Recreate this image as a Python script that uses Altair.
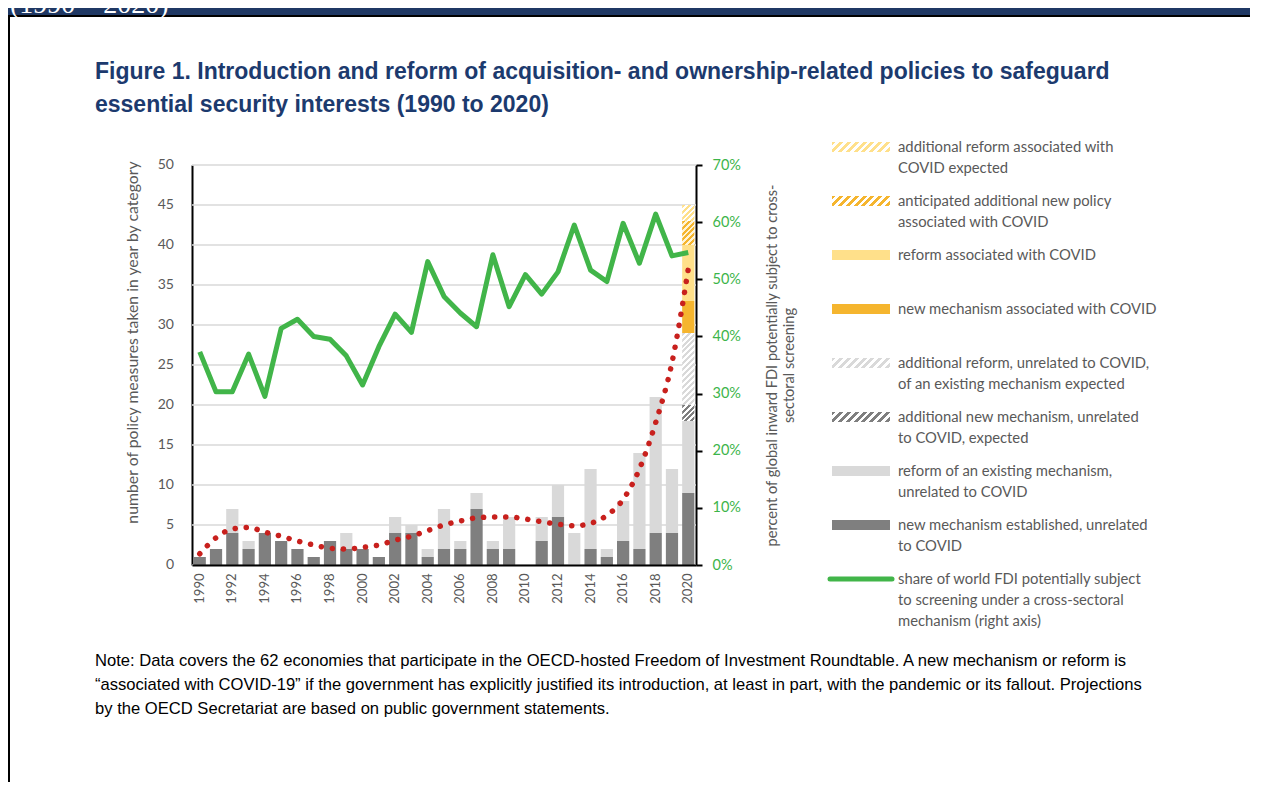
import altair as alt
import pandas as pd

# ---------------- data ----------------
years = [1990, 1991, 1992, 1993, 1994, 1995, 1996, 1997, 1998, 1999,
         2000, 2001, 2002, 2003, 2004, 2005, 2006, 2007, 2008, 2009,
         2010, 2011, 2012, 2013, 2014, 2015, 2016, 2017, 2018, 2019, 2020]
year_labels = [1990, 1992, 1994, 1996, 1998, 2000, 2002, 2004, 2006, 2008,
               2010, 2012, 2014, 2016, 2018, 2020]

new_unrelated = [1, 2, 4, 2, 4, 3, 2, 1, 3, 2, 2, 1, 4, 4, 1, 2, 2, 7, 2, 2,
                 0, 3, 6, 0, 2, 1, 3, 2, 4, 4, 9]
reform_unrelated = [0, 0, 3, 1, 0, 0, 0, 0, 0, 2, 0, 0, 2, 1, 1, 5, 1, 2, 1, 4,
                    0, 3, 4, 4, 10, 1, 5, 12, 17, 8, 9]
new_unrelated_expected = [0] * 30 + [2]
reform_unrelated_expected = [0] * 30 + [9]
new_covid = [0] * 30 + [4]
reform_covid = [0] * 30 + [7]
new_covid_expected = [0] * 30 + [3]
reform_covid_expected = [0] * 30 + [2]

fdi_share = [37.3, 30.3, 30.3, 36.9, 29.5, 41.4, 43.0, 40.0, 39.5, 36.6,
             31.5, 38.2, 43.9, 40.7, 53.1, 47.0, 44.1, 41.7, 54.3, 45.2,
             50.8, 47.4, 51.3, 59.5, 51.6, 49.6, 59.8, 52.8, 61.4, 54.1, 54.7]
trend = [1.4, 3.4, 4.5, 4.7, 4.1, 3.6, 3.0, 2.5, 2.1, 2.0,
         2.2, 2.5, 3.1, 3.6, 4.3, 5.0, 5.5, 5.9, 6.0, 6.0,
         5.75, 5.4, 5.1, 4.9, 5.2, 6.2, 8.2, 12.0, 17.8, 25.3, 37.0]

left_ticks = [0, 5, 10, 15, 20, 25, 30, 35, 40, 45, 50]
right_ticks = [0, 10, 20, 30, 40, 50, 60, 70]

legend_labels = [
    "additional reform associated with\nCOVID expected",
    "anticipated additional new policy\nassociated with COVID",
    "reform associated with COVID",
    "new mechanism associated with COVID",
    "additional reform, unrelated to COVID,\nof an existing mechanism expected",
    "additional new mechanism, unrelated\nto COVID, expected",
    "reform of an existing mechanism,\nunrelated to COVID",
    "new mechanism established, unrelated\nto COVID",
    "share of world FDI potentially subject\nto screening under a cross-sectoral\nmechanism (right axis)",
]

title_lines = [
    "Figure 1. Introduction and reform of acquisition- and ownership-related policies to safeguard",
    "essential security interests (1990 to 2020)",
]
note_lines = [
    "Note: Data covers the 62 economies that participate in the OECD-hosted Freedom of Investment Roundtable. A new mechanism or reform is",
    "\u201cassociated with COVID-19\u201d if the government has explicitly justified its introduction, at least in part, with the pandemic or its fallout. Projections",
    "by the OECD Secretariat are based on public government statements.",
]
header_text = "(1990 \u2013 2020)"

# ---------------- styles ----------------
GREY_TXT = "#595959"
DARK = "#7f7f7f"
LIGHT = "#d9d9d9"
ORANGE = "#f5b52e"
GOLD = "#ffe08a"
GREEN = "#41b549"
GREEN_TXT = "#3cb54a"
RED = "#c8201d"
NAVY = "#1f3864"
TITLE_NAVY = "#1c3a6e"
FONT = "Lato"

W, H = 504, 400
PX_PER_UNIT = H / 50.0
BANDWIDTH = W / (31 - 0.25 + 0.2) * 0.75


def hatch(color, w, h, period, frac=0.5, bg="#ffffff"):
    n = (w + h) / (period * 2 ** 0.5)
    dt = 1.0 / n
    stops = []
    t = 0.0
    while t < 0.9999:
        t1 = min(t + dt * frac, 1.0)
        t2 = min(t + dt, 1.0)
        stops += [(t, color), (t1, color), (t1, bg), (t2, bg)]
        t = t2
    s = (w + h) / (w * w + h * h)
    return {"gradient": "linear", "x1": 0, "y1": 0, "x2": s * w, "y2": s * h,
            "stops": [{"offset": round(o, 5), "color": c} for o, c in stops]}


# stacking order bottom -> top : (key, values, colour, hatched, hatch bg)
series = [
    ("new_unrel", new_unrelated, DARK, False, None),
    ("reform_unrel", reform_unrelated, LIGHT, False, None),
    ("new_unrel_exp", new_unrelated_expected, DARK, True, "#ffffff"),
    ("reform_unrel_exp", reform_unrelated_expected, LIGHT, True, "#ffffff"),
    ("new_covid", new_covid, ORANGE, False, None),
    ("reform_covid", reform_covid, GOLD, False, None),
    ("new_covid_exp", new_covid_expected, ORANGE, True, "#fff4d6"),
    ("reform_covid_exp", reform_covid_expected, GOLD, True, "#ffffff"),
]

rows = []
cum = [0] * len(years)
for key, vals, col, hat, bg in series:
    for i, y in enumerate(years):
        v = vals[i]
        if v > 0:
            rows.append({"year": y, "cat": key, "y0": cum[i], "y1": cum[i] + v, "v": v})
        cum[i] += v
bars_df = pd.DataFrame(rows)
line_df = pd.DataFrame({"year": years, "share": fdi_share, "trend": trend})
legend_df = pd.DataFrame({"item": list(range(len(legend_labels))), "label": legend_labels})
ticks_df = pd.DataFrame({"tick": left_ticks})
one = pd.DataFrame({"k": [0]})

x_enc = alt.X("year:O",
              scale=alt.Scale(paddingInner=0.25, paddingOuter=0.1),
              axis=alt.Axis(values=year_labels, labelAngle=270, title=None,
                            domainColor="black", domainWidth=2, ticks=False,
                            labelColor=GREY_TXT, labelFontSize=13, labelFont=FONT,
                            labelPadding=8, grid=False, zindex=1))

left_axis = alt.Axis(grid=False, labels=False, ticks=False,
                     domainColor="black", domainWidth=2,
                     title="number of policy measures taken in year by category",
                     titleFont=FONT, titleFontSize=15.8, titleFontWeight="normal",
                     titleColor=GREY_TXT, titleAngle=270, titleX=-60, titleY=177,
                     titleAlign="center", titleBaseline="middle")
left_scale = alt.Scale(domain=[0, 50], nice=False)

# gridlines and tick labels of the left axis, from the tick list
grid_layer = alt.Chart(ticks_df).mark_rule(color="#d9d9d9", strokeWidth=1.5).encode(
    x=alt.value(0), x2=alt.value(W),
    y=alt.Y("tick:Q", scale=left_scale, axis=left_axis))
tick_labels = alt.Chart(ticks_df).mark_text(align="right", baseline="middle", font=FONT,
                                            fontSize=14, color=GREY_TXT).encode(
    x=alt.value(-18), y=alt.Y("tick:Q", scale=left_scale, axis=left_axis),
    text=alt.Text("tick:Q"))

# ---------------- bars ----------------
solid_keys = [s[0] for s in series if not s[3]]
solid_cols = [s[2] for s in series if not s[3]]
bar_layers = [
    alt.Chart(bars_df).transform_filter(
        alt.FieldOneOfPredicate(field="cat", oneOf=solid_keys)
    ).mark_bar().encode(
        x=x_enc, y=alt.Y("y1:Q", scale=left_scale, axis=left_axis), y2="y0:Q",
        color=alt.Color("cat:N", scale=alt.Scale(domain=solid_keys, range=solid_cols), legend=None),
    )
]
for key, vals, col, hat, bg in series:
    if not hat:
        continue
    v = max(vals)
    grad = hatch(col, BANDWIDTH, v * PX_PER_UNIT, 4.2, 0.5, bg)
    bar_layers.append(
        alt.Chart(bars_df).transform_filter(alt.datum.cat == key)
        .mark_bar(color=grad)
        .encode(x=x_enc, y=alt.Y("y1:Q", scale=left_scale, axis=left_axis), y2="y0:Q")
    )

trend_layer = alt.Chart(line_df).mark_line(
    color=RED, strokeWidth=5.5, strokeDash=[0.1, 11], strokeCap="round", interpolate="monotone"
).encode(x=x_enc, y=alt.Y("trend:Q", scale=left_scale, axis=left_axis))

left_group = alt.layer(grid_layer, tick_labels, *bar_layers, trend_layer)

# ---------------- green line (right axis) ----------------
right_axis = alt.Axis(orient="right", values=right_ticks, labelExpr="datum.value + '%'",
                      grid=False, domainColor="black", domainWidth=2, tickColor="black",
                      tickWidth=2, tickSize=6, labelPadding=10, labelColor=GREEN_TXT,
                      labelFontSize=14.5, labelFont=FONT, labelOverlap=False,
                      title=["percent of global inward FDI potentially subject to cross-",
                             "sectoral screening"],
                      titleFont=FONT, titleFontSize=14.6, titleFontWeight="normal",
                      titleColor=GREY_TXT, titleAngle=270, titleX=76, titleY=200,
                      titleAlign="center", titleBaseline="middle", titleLineHeight=17)
right_group = alt.Chart(line_df).mark_line(color=GREEN, strokeWidth=5, strokeJoin="round").encode(
    x=x_enc,
    y=alt.Y("share:Q", scale=alt.Scale(domain=[0, 70], nice=False), axis=right_axis),
)

# ---------------- legend ----------------
y_leg = alt.Y("item:O", scale=alt.Scale(type="point", domain=list(range(len(legend_labels))),
                                         range=[-18, 414], padding=0), axis=None)
legend_fills = [
    hatch(GOLD, 58, 10, 5.5, 0.5),
    hatch(ORANGE, 58, 10, 5.5, 0.5),
    GOLD,
    ORANGE,
    hatch(LIGHT, 58, 10, 5.5, 0.5),
    hatch(DARK, 58, 10, 5.5, 0.5),
    LIGHT,
    DARK,
]
legend_layers = []
for i, f in enumerate(legend_fills):
    legend_layers.append(
        alt.Chart(legend_df).transform_filter(alt.datum.item == i)
        .mark_tick(orient="horizontal", thickness=10, size=58, opacity=1, color=f)
        .encode(x=alt.value(669), y=y_leg)
    )
legend_layers.append(
    alt.Chart(legend_df).transform_filter(alt.datum.item == 8)
    .mark_rule(color=GREEN, strokeWidth=5, strokeCap="round")
    .encode(x=alt.value(638), x2=alt.value(700), y=y_leg)
)
legend_layers.append(
    alt.Chart(legend_df).mark_text(align="left", baseline="alphabetic", dy=5, font=FONT,
                                   fontSize=14.8, lineHeight=21, color=GREY_TXT, lineBreak="\n")
    .encode(x=alt.value(706), y=y_leg, text="label:N")
)
legend_group = alt.layer(*legend_layers)

# ---------------- decoration: page frame, title, note ----------------
band = alt.Chart(one).mark_rect(color=NAVY).encode(
    x=alt.value(-184), x2=alt.value(1058), y=alt.value(-157), y2=alt.value(-150))
band_line = alt.Chart(one).mark_rect(color="black").encode(
    x=alt.value(-184), x2=alt.value(1058), y=alt.value(-150), y2=alt.value(-148))
border = alt.Chart(one).mark_rect(color="black").encode(
    x=alt.value(-184), x2=alt.value(-182), y=alt.value(-148), y2=alt.value(617))
header = alt.Chart(one).mark_text(align="left", baseline="alphabetic", font="Liberation Serif",
                                  fontSize=28, color="white").encode(
    x=alt.value(-182), y=alt.value(-152), text=alt.value(header_text))
title = alt.Chart(one).mark_text(align="left", baseline="alphabetic",
                                 font="Liberation Sans Narrow, Liberation Sans",
                                 fontWeight="bold", fontSize=23, lineHeight=33,
                                 color=TITLE_NAVY).encode(
    x=alt.value(-97), y=alt.value(-86), text=alt.value(title_lines))
note = alt.Chart(one).mark_text(align="left", baseline="alphabetic", font="Liberation Sans",
                                fontSize=16.6, lineHeight=24, color="black").encode(
    x=alt.value(-97), y=alt.value(501), text=alt.value(note_lines))
deco = alt.layer(band, band_line, border, header, title, note)

chart = alt.layer(deco, left_group, right_group, legend_group).resolve_scale(
    y="independent"
).properties(
    width=W, height=H,
    autosize=alt.AutoSizeParams(type="none"),
    padding={"left": 184, "top": 157, "right": 554, "bottom": 217},
    background="white",
).configure_view(stroke=None)

chart.save("out.html", embed_options={"renderer": "svg", "actions": False})
